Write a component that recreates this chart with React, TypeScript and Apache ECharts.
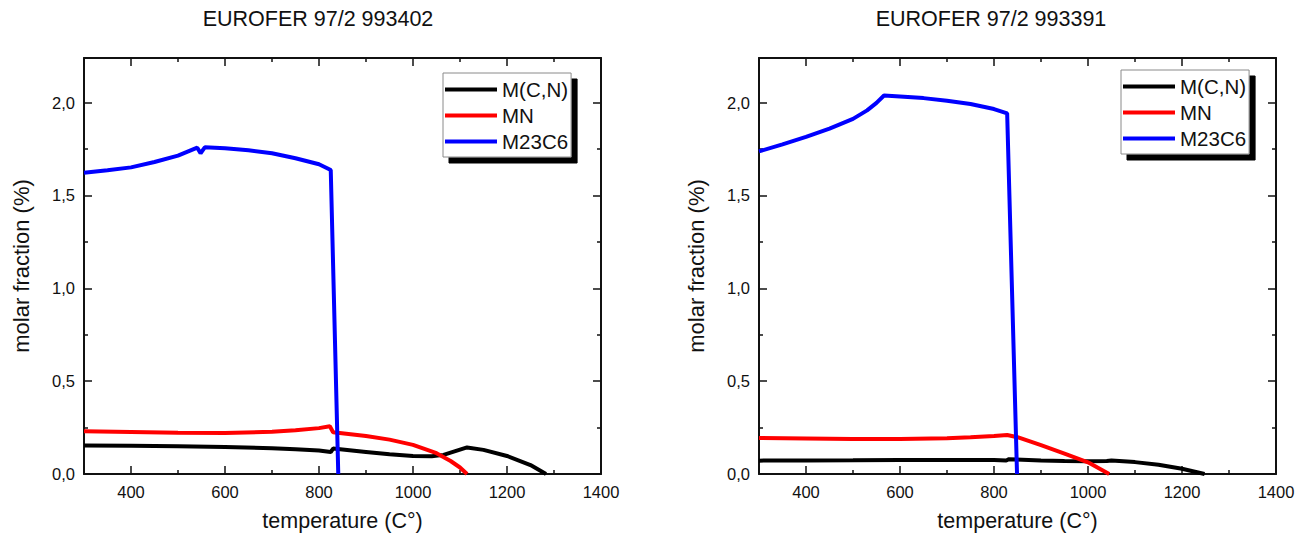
import React, { useEffect, useRef } from 'react';
import * as echarts from 'echarts';

const FONT = '"Liberation Sans", Arial, Helvetica, sans-serif';

const SERIES_NAMES = ['M(C,N)', 'MN', 'M23C6'];
const SERIES_COLORS = ['#000000', '#ff0000', '#0000ff'];
const CHART_TITLES = ['EUROFER 97/2 993402', 'EUROFER 97/2 993391'];
const X_NAME = 'temperature (C°)';
const Y_NAME = 'molar fraction (%)';

const X_MIN = 300;
const X_MAX = 1400;
const Y_MIN = 0;
const Y_MAX = 2.24;
const Y_INTERVAL = 0.5;

// Left chart: EUROFER 97/2 993402  ([temperature, molar fraction])
const mcnLeft = [
  [300, 0.153], [400, 0.152], [500, 0.149], [600, 0.146], [700, 0.139], [750, 0.133],
  [800, 0.126], [825, 0.118], [830, 0.137], [900, 0.119], [950, 0.106], [1000, 0.097],
  [1040, 0.096], [1065, 0.103], [1115, 0.143], [1150, 0.13], [1200, 0.097], [1250, 0.048],
  [1283, 0],
];
const mnLeft = [
  [300, 0.23], [400, 0.226], [500, 0.222], [600, 0.221], [700, 0.227], [750, 0.235],
  [800, 0.247], [823, 0.257], [830, 0.225], [900, 0.205], [950, 0.185], [1000, 0.157],
  [1050, 0.112], [1080, 0.07], [1100, 0.035], [1115, 0],
];
const m23c6Left = [
  [300, 1.622], [350, 1.635], [400, 1.651], [450, 1.68], [500, 1.714], [541, 1.757],
  [548, 1.727], [557, 1.759], [600, 1.754], [650, 1.743], [700, 1.727], [750, 1.7],
  [800, 1.668], [825, 1.637], [841, 0],
];

// Right chart: EUROFER 97/2 993391
const mcnRight = [
  [300, 0.072], [400, 0.073], [500, 0.074], [600, 0.076], [700, 0.076], [800, 0.075],
  [826, 0.073], [832, 0.08], [900, 0.073], [950, 0.07], [1000, 0.068], [1040, 0.07],
  [1050, 0.073], [1100, 0.064], [1150, 0.05], [1200, 0.028], [1248, 0],
];
const mnRight = [
  [300, 0.194], [400, 0.191], [500, 0.188], [600, 0.188], [700, 0.193], [750, 0.198],
  [800, 0.205], [828, 0.21], [850, 0.198], [900, 0.155], [950, 0.11], [1000, 0.063],
  [1045, 0],
];
const m23c6Right = [
  [300, 1.737], [350, 1.775], [400, 1.815], [450, 1.86], [500, 1.912], [530, 1.958],
  [550, 1.998], [566, 2.038], [600, 2.033], [650, 2.024], [700, 2.01], [750, 1.992],
  [800, 1.965], [828, 1.942], [849, 0],
];

const LEFT_DATA = [mcnLeft, mnLeft, m23c6Left];
const RIGHT_DATA = [mcnRight, mnRight, m23c6Right];

const AXIS_COLOR = '#111';

const xFmt = (v: number) => (v < 350 ? '' : String(v));
const yFmt = (v: number) => (v > 2.2 ? '' : v.toFixed(1).replace('.', ','));

function makeX(gridIndex: number, position: 'bottom' | 'top', main: boolean) {
  return {
    type: 'value',
    gridIndex,
    position,
    min: X_MIN,
    max: X_MAX,
    splitNumber: 5,
    axisLine: { show: true, onZero: false, lineStyle: { color: AXIS_COLOR, width: 2 } },
    axisTick: { show: true, inside: true, length: 8, lineStyle: { color: AXIS_COLOR, width: 1.5 } },
    minorTick: { show: true, splitNumber: 2, length: 4, lineStyle: { color: AXIS_COLOR, width: 1.5 } },
    splitLine: { show: false },
    minorSplitLine: { show: false },
    axisLabel: {
      show: main,
      formatter: xFmt,
      fontSize: 16.5,
      color: AXIS_COLOR,
      fontFamily: FONT,
      margin: 9,
    },
    name: main ? X_NAME : '',
    nameLocation: 'middle',
    nameGap: 36,
    nameTextStyle: { fontSize: 21.5, color: AXIS_COLOR, fontFamily: FONT },
  };
}

function makeY(gridIndex: number, position: 'left' | 'right', main: boolean) {
  return {
    type: 'value',
    gridIndex,
    position,
    min: Y_MIN,
    max: Y_MAX,
    interval: Y_INTERVAL,
    axisLine: { show: true, onZero: false, lineStyle: { color: AXIS_COLOR, width: 2 } },
    axisTick: { show: true, inside: true, length: 8, lineStyle: { color: AXIS_COLOR, width: 1.5 } },
    minorTick: { show: true, splitNumber: 2, length: 4, lineStyle: { color: AXIS_COLOR, width: 1.5 } },
    splitLine: { show: false },
    minorSplitLine: { show: false },
    axisLabel: {
      show: main,
      formatter: yFmt,
      fontSize: 16.5,
      color: AXIS_COLOR,
      fontFamily: FONT,
      margin: 9,
    },
    name: main ? Y_NAME : '',
    nameLocation: 'middle',
    nameGap: 52,
    nameTextStyle: { fontSize: 22, color: AXIS_COLOR, fontFamily: FONT },
  };
}

function makeLegend(left: number, top: number) {
  return {
    data: SERIES_NAMES,
    left,
    top,
    orient: 'vertical',
    icon: 'rect',
    itemWidth: 52,
    itemHeight: 4,
    itemGap: 5,
    padding: [6, 3, 5, 2],
    backgroundColor: '#fff',
    borderColor: '#8a8a8a',
    borderWidth: 1,
    shadowColor: '#000',
    shadowBlur: 0,
    shadowOffsetX: 6,
    shadowOffsetY: 6,
    selectedMode: false,
    textStyle: { fontSize: 20.5, lineHeight: 21, color: AXIS_COLOR, fontFamily: FONT },
  };
}

function makeSeries(data: number[][][], axisIndex: number) {
  return data.map((d, i) => ({
    type: 'line',
    name: SERIES_NAMES[i],
    data: d,
    xAxisIndex: axisIndex,
    yAxisIndex: axisIndex,
    showSymbol: false,
    symbol: 'none',
    clip: true,
    lineStyle: { color: SERIES_COLORS[i], width: 4 },
    itemStyle: { color: SERIES_COLORS[i] },
    z: 2 + i,
  }));
}

export default function App() {
  const ref = useRef<HTMLDivElement>(null);

  useEffect(() => {
    if (!ref.current) return;
    const chart = echarts.init(ref.current, null, { renderer: 'svg' });
    chart.setOption({
      animation: false,
      backgroundColor: '#fff',
      grid: [
        { left: 84, top: 58, width: 517, height: 416 },
        { left: 759, top: 58, width: 517, height: 416 },
      ],
      xAxis: [
        makeX(0, 'bottom', true),
        makeX(0, 'top', false),
        makeX(1, 'bottom', true),
        makeX(1, 'top', false),
      ],
      yAxis: [
        makeY(0, 'left', true),
        makeY(0, 'right', false),
        makeY(1, 'left', true),
        makeY(1, 'right', false),
      ],
      legend: [makeLegend(443, 73), makeLegend(1121, 70)],
      graphic: [
        {
          type: 'text',
          x: 318,
          y: 19,
          style: {
            text: CHART_TITLES[0],
            font: `21.5px ${FONT}`,
            fill: AXIS_COLOR,
            textAlign: 'center',
            textVerticalAlign: 'middle',
          },
        },
        {
          type: 'text',
          x: 991,
          y: 19,
          style: {
            text: CHART_TITLES[1],
            font: `21.5px ${FONT}`,
            fill: AXIS_COLOR,
            textAlign: 'center',
            textVerticalAlign: 'middle',
          },
        },
      ],
      series: [...makeSeries(LEFT_DATA, 0), ...makeSeries(RIGHT_DATA, 2)],
    });
    return () => chart.dispose();
  }, []);

  return (
    <div
      ref={ref}
      style={{ position: 'fixed', left: 0, top: 0, width: 1314, height: 539, background: '#fff' }}
    />
  );
}
